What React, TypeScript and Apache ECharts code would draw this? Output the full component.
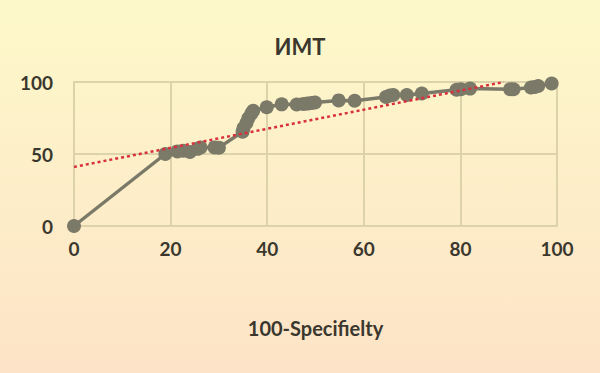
import React, { useEffect, useRef } from "react";
import * as echarts from "echarts";

const titleText = "ИМТ";
const xAxisTitle = "100-Specifielty";

// ROC-like curve points (100-Specificity, Sensitivity)
const xValues = [0, 18.9, 21.4, 22.6, 24, 25.6, 26.2, 29.1, 30, 34.9, 35.1, 35.7, 36.1, 36.7, 37.1, 39.9, 43, 46.1, 47.5, 48.3, 49.2, 49.9, 54.8, 58.1, 64.6, 65.4, 66.1, 68.9, 72, 79.2, 80.1, 82, 90.3, 91, 94.6, 95.4, 96.1, 98.9];
const yValues = [0, 50, 51.8, 52.3, 51.4, 53.6, 54.6, 54.6, 54.4, 65.5, 68, 71.5, 74.8, 78, 80, 82.5, 84.5, 84.4, 84.8, 85, 85.5, 85.8, 87.2, 87, 89.6, 90.6, 91, 91, 92, 94.6, 95, 95.4, 95, 95, 96.2, 96.6, 97.2, 99];

// linear trend line endpoints
const trendX = [0, 89];
const trendY = [41, 100];

const xTicks = { min: 0, max: 100, interval: 20 };
const yTicks = { min: 0, max: 100, interval: 50 };

export default function App() {
  const ref = useRef<HTMLDivElement>(null);
  useEffect(() => {
    if (!ref.current) return;
    const chart = echarts.init(ref.current, undefined, { renderer: "svg" });
    const font = "Lato, 'Open Sans', sans-serif";
    const textColor = "#3a382e";
    const gridColor = "#dcd3aa";
    chart.setOption({
      animation: false,
      backgroundColor: new echarts.graphic.LinearGradient(0, 0, 0, 1, [
        { offset: 0, color: "#fdf9ca" },
        { offset: 1, color: "#fde3c7" },
      ]),
      title: {
        text: titleText,
        left: "center",
        top: 30,
        textStyle: { fontFamily: font, fontWeight: "bold", fontSize: 22, color: textColor },
      },
      grid: { left: 74, right: 43, top: 82, bottom: 147 },
      xAxis: {
        type: "value",
        min: xTicks.min,
        max: xTicks.max,
        interval: xTicks.interval,
        name: xAxisTitle,
        nameLocation: "middle",
        nameGap: 92,
        nameTextStyle: { fontFamily: font, fontWeight: "bold", fontSize: 20, color: textColor },
        axisLine: { show: true, lineStyle: { color: gridColor, width: 2 } },
        axisTick: { show: false },
        splitLine: { show: true, lineStyle: { color: gridColor, width: 2 } },
        axisLabel: { margin: 13, fontFamily: font, fontWeight: "bold", fontSize: 19, color: textColor },
      },
      yAxis: {
        type: "value",
        min: yTicks.min,
        max: yTicks.max,
        interval: yTicks.interval,
        axisLine: { show: true, lineStyle: { color: gridColor, width: 2 } },
        axisTick: { show: false },
        splitLine: { show: true, lineStyle: { color: gridColor, width: 2 } },
        axisLabel: { margin: 21, fontFamily: font, fontWeight: "bold", fontSize: 19, color: textColor },
      },
      series: [
        {
          type: "line",
          data: xValues.map((x, i) => [x, yValues[i]]),
          symbol: "circle",
          symbolSize: 14,
          showAllSymbol: true,
          itemStyle: { color: "#7b7968" },
          lineStyle: { color: "#7b7968", width: 3.5 },
          z: 2,
        },
        {
          type: "line",
          data: trendX.map((x, i) => [x, trendY[i]]),
          symbol: "none",
          lineStyle: { color: "#d8313d", width: 2.5, type: [3, 3] },
          z: 3,
        },
      ],
    });
    return () => chart.dispose();
  }, []);
  return <div ref={ref} style={{ position: "fixed", left: 0, top: 0, width: 600, height: 373 }} />;
}
